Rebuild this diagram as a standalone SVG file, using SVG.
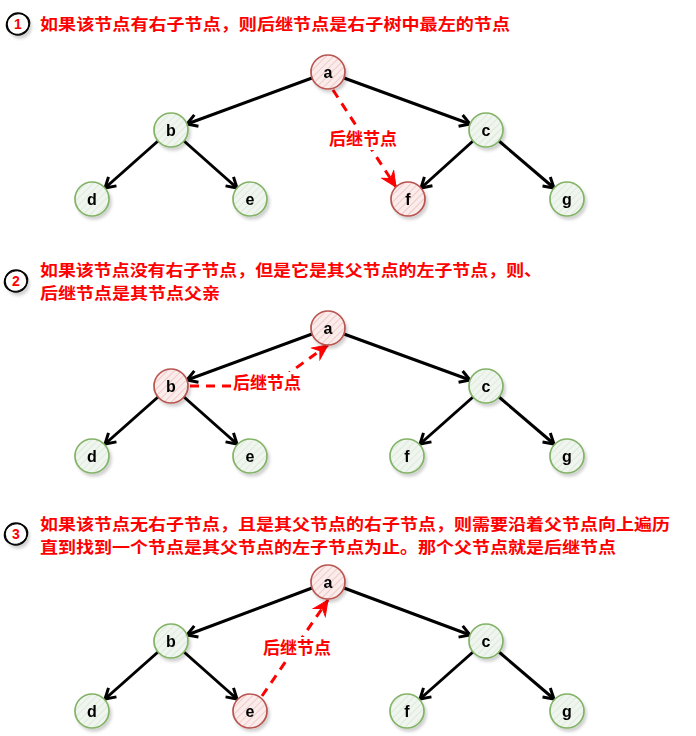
<svg xmlns="http://www.w3.org/2000/svg" width="696" height="736" viewBox="0 0 696 736">
<defs>
<pattern id="hatchR" width="5" height="5" patternUnits="userSpaceOnUse" patternTransform="rotate(45)">
<rect width="5" height="5" fill="#fbecec"/>
<line x1="0" y1="0" x2="0" y2="5" stroke="#eab1af" stroke-width="1.2"/>
</pattern>
<pattern id="hatchG" width="5" height="5" patternUnits="userSpaceOnUse" patternTransform="rotate(45)">
<rect width="5" height="5" fill="#f0f6ef"/>
<line x1="0" y1="0" x2="0" y2="5" stroke="#cfe3cc" stroke-width="1.2"/>
</pattern>
<filter id="sh" x="-30%" y="-30%" width="170%" height="170%">
<feDropShadow dx="2" dy="3" stdDeviation="1.5" flood-color="#000" flood-opacity="0.18"/>
</filter>
<marker id="ah" viewBox="-12 -8 14 16" refX="0" refY="0" markerWidth="14" markerHeight="16" markerUnits="userSpaceOnUse" orient="auto">
<path d="M-10,-6 L0,0 L-10,6" fill="none" stroke="#000" stroke-width="3" stroke-linejoin="miter"/>
</marker>
<marker id="ahr" viewBox="-16 -9 18 18" refX="0" refY="0" markerWidth="18" markerHeight="18" markerUnits="userSpaceOnUse" orient="auto">
<path d="M-15,-7 L0,0 L-15,7 L-10,0 Z" fill="#ff0000" stroke="#ff0000" stroke-width="1"/>
</marker>
</defs>
<style>
.title{font-family:"Noto Sans CJK SC","Liberation Sans",sans-serif;font-weight:bold;font-size:15.8px;fill:#ff0000}
.lbl{font-family:"Noto Sans CJK SC","Liberation Sans",sans-serif;font-weight:bold;font-size:17px;fill:#ff0000}
.num{font-family:"Liberation Sans",sans-serif;font-weight:bold;font-size:14px;fill:#ff0000}
.nt{font-family:"Liberation Sans",sans-serif;font-weight:bold;font-size:16px;fill:#000}
.red{fill:url(#hatchR);stroke:#b85450;stroke-width:1.7}
.grn{fill:url(#hatchG);stroke:#82b366;stroke-width:1.7}
.edge{fill:none;stroke:#000;stroke-width:3;marker-end:url(#ah)}
.dash{fill:none;stroke:#ff0000;stroke-width:3;stroke-dasharray:9 7;marker-end:url(#ahr)}
.icon{fill:#fff;stroke:#000;stroke-width:1.5}
</style>
<rect width="696" height="736" fill="#fff"/>

<!-- Titles -->
<g id="title1">
<g filter="url(#sh)"><circle class="icon" cx="18" cy="24" r="11"/></g>
<ellipse cx="18" cy="24" rx="12" ry="10" fill="none" stroke="#000" stroke-width="1" transform="rotate(-20 18 24)"/>
<text class="num" x="18" y="29" text-anchor="middle">1</text>
<text class="title" x="40" y="30" textLength="470" lengthAdjust="spacingAndGlyphs">如果该节点有右子节点，则后继节点是右子树中最左的节点</text>
</g>
<g id="title2">
<g filter="url(#sh)"><circle class="icon" cx="16" cy="281" r="11"/></g>
<ellipse cx="16" cy="281" rx="12" ry="10" fill="none" stroke="#000" stroke-width="1" transform="rotate(-20 16 281)"/>
<text class="num" x="16" y="286" text-anchor="middle">2</text>
<text class="title" x="40" y="276" textLength="502" lengthAdjust="spacingAndGlyphs">如果该节点没有右子节点，但是它是其父节点的左子节点，则、</text>
<text class="title" x="40" y="299" textLength="180" lengthAdjust="spacingAndGlyphs">后继节点是其节点父亲</text>
</g>
<g id="title3">
<g filter="url(#sh)"><circle class="icon" cx="16" cy="534" r="11"/></g>
<ellipse cx="16" cy="534" rx="12" ry="10" fill="none" stroke="#000" stroke-width="1" transform="rotate(-20 16 534)"/>
<text class="num" x="16" y="539" text-anchor="middle">3</text>
<text class="title" x="40" y="530" textLength="630" lengthAdjust="spacingAndGlyphs">如果该节点无右子节点，且是其父节点的右子节点，则需要沿着父节点向上遍历</text>
<text class="title" x="40" y="553" textLength="576" lengthAdjust="spacingAndGlyphs">直到找到一个节点是其父节点的左子节点为止。那个父节点就是后继节点</text>
</g>

<!-- Connectors -->
<g id="connectors">
<!-- diagram 1 -->
<path class="edge" d="M312,78 L187,124"/>
<path class="edge" d="M344,78 L470,124"/>
<path class="edge" d="M158,141 L105,188"/>
<path class="edge" d="M184,141 L237,188"/>
<path class="edge" d="M473,141 L421,188"/>
<path class="edge" d="M499,141 L554,188"/>
<path class="dash" d="M333,90 L396,187"/>
<!-- diagram 2 -->
<path class="edge" d="M312,334 L187,380"/>
<path class="edge" d="M344,334 L470,380"/>
<path class="edge" d="M158,397 L105,444"/>
<path class="edge" d="M184,397 L237,444"/>
<path class="edge" d="M473,397 L420,444"/>
<path class="edge" d="M499,397 L554,444"/>
<path class="dash" d="M190,386 L271,386 L328,345"/>
<!-- diagram 3 -->
<path class="edge" d="M312,588 L187,635"/>
<path class="edge" d="M344,588 L470,635"/>
<path class="edge" d="M158,652 L105,699"/>
<path class="edge" d="M184,652 L237,699"/>
<path class="edge" d="M473,652 L420,699"/>
<path class="edge" d="M499,652 L554,699"/>
<path class="dash" d="M262,696 L328,600"/>
<!-- labels -->
<rect x="326" y="128" width="74" height="22" fill="#fff"/>
<text class="lbl" x="363" y="145" text-anchor="middle">后继节点</text>
<rect x="232" y="372" width="70" height="22" fill="#fff"/>
<text class="lbl" x="267" y="389" text-anchor="middle">后继节点</text>
<rect x="260" y="637" width="74" height="22" fill="#fff"/>
<text class="lbl" x="297" y="654" text-anchor="middle">后继节点</text>
</g>

<!-- Diagram 1 nodes -->
<g id="d1-a" filter="url(#sh)"><circle class="red" cx="328" cy="72" r="17"/><text class="nt" x="328" y="78" text-anchor="middle">a</text></g>
<g id="d1-b" filter="url(#sh)"><circle class="grn" cx="171" cy="130" r="17"/><text class="nt" x="171" y="136" text-anchor="middle">b</text></g>
<g id="d1-c" filter="url(#sh)"><circle class="grn" cx="486" cy="130" r="17"/><text class="nt" x="486" y="136" text-anchor="middle">c</text></g>
<g id="d1-d" filter="url(#sh)"><circle class="grn" cx="92" cy="199" r="17"/><text class="nt" x="92" y="205" text-anchor="middle">d</text></g>
<g id="d1-e" filter="url(#sh)"><circle class="grn" cx="250" cy="199" r="17"/><text class="nt" x="250" y="205" text-anchor="middle">e</text></g>
<g id="d1-f" filter="url(#sh)"><circle class="red" cx="408" cy="199" r="17"/><text class="nt" x="408" y="205" text-anchor="middle">f</text></g>
<g id="d1-g" filter="url(#sh)"><circle class="grn" cx="567" cy="199" r="17"/><text class="nt" x="567" y="205" text-anchor="middle">g</text></g>

<!-- Diagram 2 nodes -->
<g id="d2-a" filter="url(#sh)"><circle class="red" cx="328" cy="328" r="17"/><text class="nt" x="328" y="334" text-anchor="middle">a</text></g>
<g id="d2-b" filter="url(#sh)"><circle class="red" cx="171" cy="386" r="17"/><text class="nt" x="171" y="392" text-anchor="middle">b</text></g>
<g id="d2-c" filter="url(#sh)"><circle class="grn" cx="486" cy="386" r="17"/><text class="nt" x="486" y="392" text-anchor="middle">c</text></g>
<g id="d2-d" filter="url(#sh)"><circle class="grn" cx="92" cy="456" r="17"/><text class="nt" x="92" y="462" text-anchor="middle">d</text></g>
<g id="d2-e" filter="url(#sh)"><circle class="grn" cx="250" cy="456" r="17"/><text class="nt" x="250" y="462" text-anchor="middle">e</text></g>
<g id="d2-f" filter="url(#sh)"><circle class="grn" cx="407" cy="456" r="17"/><text class="nt" x="407" y="462" text-anchor="middle">f</text></g>
<g id="d2-g" filter="url(#sh)"><circle class="grn" cx="567" cy="456" r="17"/><text class="nt" x="567" y="462" text-anchor="middle">g</text></g>

<!-- Diagram 3 nodes -->
<g id="d3-a" filter="url(#sh)"><circle class="red" cx="328" cy="582" r="17"/><text class="nt" x="328" y="588" text-anchor="middle">a</text></g>
<g id="d3-b" filter="url(#sh)"><circle class="grn" cx="171" cy="641" r="17"/><text class="nt" x="171" y="647" text-anchor="middle">b</text></g>
<g id="d3-c" filter="url(#sh)"><circle class="grn" cx="486" cy="641" r="17"/><text class="nt" x="486" y="647" text-anchor="middle">c</text></g>
<g id="d3-d" filter="url(#sh)"><circle class="grn" cx="92" cy="711" r="17"/><text class="nt" x="92" y="717" text-anchor="middle">d</text></g>
<g id="d3-e" filter="url(#sh)"><circle class="red" cx="250" cy="711" r="17"/><text class="nt" x="250" y="717" text-anchor="middle">e</text></g>
<g id="d3-f" filter="url(#sh)"><circle class="grn" cx="407" cy="711" r="17"/><text class="nt" x="407" y="717" text-anchor="middle">f</text></g>
<g id="d3-g" filter="url(#sh)"><circle class="grn" cx="567" cy="711" r="17"/><text class="nt" x="567" y="717" text-anchor="middle">g</text></g>
</svg>
